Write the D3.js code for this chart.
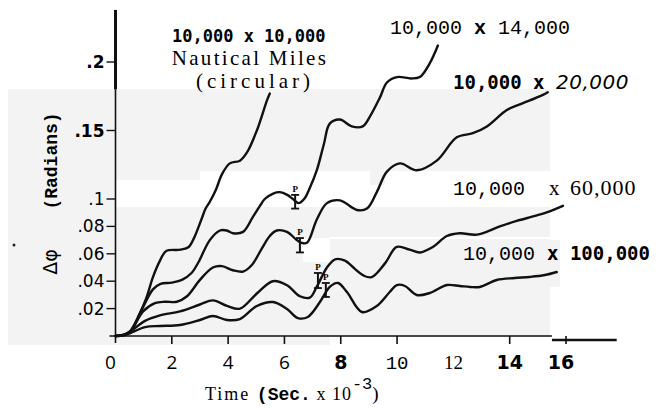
<!DOCTYPE html>
<html>
<head>
<meta charset="utf-8">
<script src="https://cdn.jsdelivr.net/npm/d3@7"></script>
<style>
  body { margin: 0; background: #fff; }
  svg { display: block; }
</style>
</head>
<body>
<svg id="chart" width="661" height="408"></svg>
<script>
// values: [time (sec x 10^-3), delta phi (radians)]
const circular10k = [[0,0],[0.3,0.001],[0.5,0.003],[0.85,0.016],[1.1,0.028],[1.33,0.043],[1.58,0.055],[1.8,0.062],[2.3,0.063],[2.6,0.065],[2.8,0.072],[3.05,0.085],[3.2,0.093],[3.35,0.098],[3.57,0.107],[3.78,0.118],[4.06,0.126],[4.42,0.128],[4.67,0.134],[5.02,0.150],[5.38,0.172],[5.48,0.177]];
const orbit14k = [[0,0],[0.3,0.001],[0.55,0.004],[1.0,0.022],[1.33,0.034],[1.6,0.038],[2.0,0.039],[2.36,0.041],[2.7,0.046],[2.95,0.054],[3.35,0.070],[3.71,0.077],[3.95,0.077],[4.17,0.075],[4.53,0.076],[4.88,0.087],[5.13,0.095],[5.3,0.100],[5.6,0.104],[5.84,0.105],[6.1,0.103],[6.3,0.100],[6.5,0.097],[6.7,0.100],[6.9,0.108],[7.15,0.121],[7.4,0.140],[7.61,0.155],[7.97,0.158],[8.39,0.153],[8.78,0.153],[9.03,0.160],[9.39,0.174],[9.64,0.185],[10.0,0.189],[10.5,0.188],[10.81,0.189],[11.16,0.199],[11.45,0.212]];
const orbit20k = [[0,0],[0.3,0.0008],[0.55,0.004],[0.98,0.018],[1.4,0.024],[1.76,0.025],[2.18,0.025],[2.54,0.029],[3.0,0.041],[3.46,0.050],[3.78,0.051],[4.17,0.048],[4.53,0.047],[4.85,0.052],[5.2,0.064],[5.48,0.073],[5.73,0.077],[6.09,0.076],[6.44,0.070],[6.6,0.068],[6.8,0.068],[7.15,0.085],[7.51,0.097],[7.97,0.099],[8.57,0.092],[8.93,0.093],[9.28,0.105],[9.64,0.120],[10.1,0.126],[10.7,0.121],[11.41,0.128],[12.12,0.145],[12.69,0.148],[13.19,0.153],[13.9,0.165],[14.36,0.169],[15.18,0.176],[15.35,0.178]];
const orbit60k = [[0,0],[0.3,0.0007],[0.51,0.003],[1.05,0.011],[1.58,0.015],[2.29,0.018],[3.0,0.023],[3.46,0.026],[3.96,0.022],[4.42,0.020],[5.02,0.031],[5.59,0.040],[6.09,0.037],[6.55,0.029],[6.9,0.028],[7.15,0.036],[7.51,0.050],[7.8,0.056],[8.15,0.055],[8.5,0.049],[8.82,0.044],[9.1,0.043],[9.57,0.053],[9.99,0.065],[10.45,0.063],[10.81,0.061],[11.27,0.065],[11.77,0.073],[12.23,0.075],[12.84,0.074],[13.65,0.080],[14.25,0.084],[14.96,0.088],[15.42,0.091],[15.89,0.095]];
const orbit100k = [[0,0],[0.3,0.0005],[0.51,0.002],[1.05,0.0065],[1.58,0.0073],[2.29,0.008],[3.0,0.0117],[3.46,0.0146],[3.96,0.0117],[4.42,0.0124],[5.02,0.0219],[5.59,0.0248],[6.09,0.0197],[6.48,0.0131],[6.83,0.0139],[7.26,0.0248],[7.61,0.0358],[7.9,0.0387],[8.22,0.0321],[8.75,0.0175],[9.28,0.0219],[9.74,0.0321],[9.99,0.0372],[10.28,0.0365],[10.7,0.0299],[11.16,0.0314],[11.77,0.0372],[12.23,0.0365],[12.59,0.0358],[12.94,0.0358],[13.54,0.0409],[14.18,0.0423],[14.71,0.0431],[15.25,0.0445],[15.67,0.0467]];

// "P" error bars: time, low, high
const errorBars = [[6.38,0.093,0.103],[6.55,0.061,0.0715],[7.19,0.035,0.046],[7.47,0.0285,0.0387]];

const xTicks = [0, 2, 4, 6, 8, 10, 12, 14, 16];
const yTicks = [0.02, 0.04, 0.06, 0.08, 0.1, 0.15, 0.2];
const yTickLabels = ['.02', '.04', '.06', '.08', '.1', '.15', '.2'];

const svg = d3.select('#chart');

const x = d3.scaleLinear().domain([0, 16]).range([115.5, 566]);
const y = d3.scaleLinear().domain([0, 0.2]).range([336, 62]);

// grey patches of the pasted-up scan
const grey = '#f3f3f3';
const patches = [
  [8, 89, 542, 82], [8, 171, 108, 174], [116, 171, 84, 9], [370, 171, 15, 14],
  [116, 207, 434, 130], [116, 337, 214, 8], [550, 240, 10, 47]
];
svg.selectAll('rect.patch').data(patches).enter().append('rect')
  .attr('class', 'patch')
  .attr('x', d => d[0]).attr('y', d => d[1])
  .attr('width', d => d[2]).attr('height', d => d[3])
  .attr('fill', grey);
svg.append('rect').attr('x', 303).attr('y', 238).attr('width', 27).attr('height', 24).attr('fill', '#fff');
svg.append('rect').attr('x', 330).attr('y', 237).attr('width', 220).attr('height', 2).attr('fill', '#fff');

// axes drawn by hand, like the original drafting
const ax = svg.append('g').attr('stroke', '#111').attr('fill', 'none');
ax.append('line').attr('x1', x(0)).attr('x2', x(0))
  .attr('y1', y(0) + 7).attr('y2', y(0.18)).attr('stroke-width', 1.6);
ax.append('line').attr('x1', x(0)).attr('x2', x(0))
  .attr('y1', y(0.18)).attr('y2', y(0.238)).attr('stroke-width', 3);
ax.append('line').attr('x1', x(0) - 6).attr('x2', x(15.5))
  .attr('y1', y(0)).attr('y2', y(0)).attr('stroke-width', 1.6);
ax.append('line').attr('x1', x(15.5)).attr('x2', x(17.8))
  .attr('y1', y(0) + 4).attr('y2', y(0) + 4).attr('stroke-width', 2.4);

ax.selectAll('line.yt').data(yTicks).enter().append('line')
  .attr('x1', x(0) - 9).attr('x2', x(0))
  .attr('y1', d => y(d)).attr('y2', d => y(d))
  .attr('stroke-width', 1.4);
ax.selectAll('line.xt').data(xTicks.filter(d => d > 0 && d !== 12)).enter().append('line')
  .attr('x1', d => x(d)).attr('x2', d => x(d))
  .attr('y1', y(0)).attr('y2', y(0) + 8)
  .attr('stroke-width', 1.6);

svg.selectAll('text.ytl').data(yTicks).enter().append('text')
  .attr('x', x(0) - 11).attr('y', d => y(d) + 6)
  .attr('text-anchor', 'end')
  .style('font-family', '"DejaVu Sans"')
  .style('font-size', '17px')
  .style('font-weight', (d, i) => i >= 5 ? 'bold' : 'normal')
  .text((d, i) => yTickLabels[i]);

const xFonts = {
  0: ['"Open Sans"', 'normal'], 2: ['"Open Sans"', 'normal'], 4: ['"Open Sans"', 'normal'],
  6: ['"Open Sans"', 'normal'], 8: ['"DejaVu Sans"', 'bold'], 10: ['"Liberation Mono"', 'normal'],
  12: ['"Liberation Serif"', 'normal'], 14: ['"DejaVu Sans"', 'bold'], 16: ['"DejaVu Sans"', 'bold']
};
svg.selectAll('text.xtl').data(xTicks).enter().append('text')
  .attr('x', d => x(d) - (d === 0 ? 5 : d === 16 ? 5 : 0))
  .attr('y', 369)
  .attr('text-anchor', 'middle')
  .style('font-family', d => xFonts[d][0])
  .style('font-weight', d => xFonts[d][1])
  .style('font-size', '19px')
  .text(d => d);

// curves
const line = d3.line()
  .x(d => x(d[0])).y(d => y(d[1]))
  .curve(d3.curveCatmullRom.alpha(0.5));

svg.selectAll('path.curve')
  .data([circular10k, orbit14k, orbit20k, orbit60k, orbit100k])
  .enter().append('path')
  .attr('class', 'curve')
  .attr('d', line)
  .attr('fill', 'none')
  .attr('stroke', '#111')
  .attr('stroke-width', 2.4)
  .attr('stroke-linecap', 'round');

// error bars
const eb = svg.selectAll('g.eb').data(errorBars).enter().append('g').attr('class', 'eb');
eb.append('line').attr('x1', d => x(d[0])).attr('x2', d => x(d[0]))
  .attr('y1', d => y(d[1])).attr('y2', d => y(d[2]))
  .attr('stroke', '#111').attr('stroke-width', 2);
eb.append('line').attr('x1', d => x(d[0]) - 4).attr('x2', d => x(d[0]) + 4)
  .attr('y1', d => y(d[1])).attr('y2', d => y(d[1]))
  .attr('stroke', '#111').attr('stroke-width', 1.8);
eb.append('line').attr('x1', d => x(d[0]) - 4).attr('x2', d => x(d[0]) + 4)
  .attr('y1', d => y(d[2])).attr('y2', d => y(d[2]))
  .attr('stroke', '#111').attr('stroke-width', 1.8);
eb.append('text').attr('x', d => x(d[0])).attr('y', d => y(d[2]) - 3)
  .attr('text-anchor', 'middle')
  .style('font-family', '"Liberation Serif"').style('font-weight', 'bold')
  .style('font-size', '9px')
  .text('P');

// series labels (mixed type faces, as in the paste-up)
function label(xp, yp, parts) {
  const t = svg.append('text').attr('x', xp).attr('y', yp).attr('xml:space', 'preserve');
  parts.forEach(p => {
    t.append('tspan')
      .style('font-family', p.f)
      .style('font-weight', p.w || 'normal')
      .style('font-style', p.s || 'normal')
      .style('font-size', (p.z || 20) + 'px')
      .style('letter-spacing', (p.ls || 0) + 'px')
      .text(p.t);
  });
  return t;
}
const mono = '"Liberation Mono"';
const dmono = '"DejaVu Sans Mono"';
const serif = '"Liberation Serif"';
const nb = '\u00a0';

label(172, 42, [{ t: '10,000 x 10,000', f: dmono, w: 'bold', z: 17 }]);
label(250, 65, [{ t: 'Nautical Miles', f: serif, z: 21, ls: 2.3 }]).attr('text-anchor', 'middle');
label(255, 88, [{ t: '(circular)', f: serif, z: 21, ls: 4 }]).attr('text-anchor', 'middle');
label(390, 34, [{ t: '10,000' + nb, f: mono, z: 20 }, { t: 'x', f: mono, w: 'bold', z: 20 }, { t: nb + '14,000', f: mono, z: 20 }]);
label(453, 89, [{ t: '10,000' + nb + 'x' + nb, f: dmono, w: 'bold', z: 19 }, { t: '20,000', f: '"DejaVu Sans"', s: 'italic', z: 20, ls: 0.5 }]);
label(453, 195, [{ t: '10,000' + nb + nb, f: mono, z: 20 }, { t: 'x' + nb + nb, f: serif, z: 21 }, { t: '60,000', f: serif, z: 22, ls: 1 }]);
label(463, 260, [{ t: '10,000' + nb, f: mono, z: 20 }, { t: 'x' + nb + '100,000', f: dmono, w: 'bold', z: 19 }]);

// axis titles
const xt = label(205, 400, [
  { t: 'Time' + nb, f: serif, z: 18, ls: 2 },
  { t: '(Sec.', f: mono, w: 'bold', z: 18 },
  { t: nb + 'x' + nb + '10', f: serif, z: 18, ls: 1 }
]);
xt.append('tspan').attr('dy', -11).style('font-family', mono).style('font-size', '17px').text('-3');
xt.append('tspan').attr('dy', 11).style('font-family', serif).style('font-size', '19px').text(')');

svg.append('text')
  .attr('transform', 'translate(57,161) rotate(-90)')
  .attr('text-anchor', 'middle')
  .style('font-family', mono).style('font-weight', 'bold').style('font-size', '18px')
  .text('(Radians)');
svg.append('text')
  .attr('transform', 'translate(57,262) rotate(-90)')
  .attr('text-anchor', 'middle')
  .style('font-family', '"DejaVu Sans"').style('font-size', '19px')
  .text('Δφ');

svg.append('circle').attr('cx', 14).attr('cy', 245).attr('r', 1.5).attr('fill', '#222');
</script>
</body>
</html>
